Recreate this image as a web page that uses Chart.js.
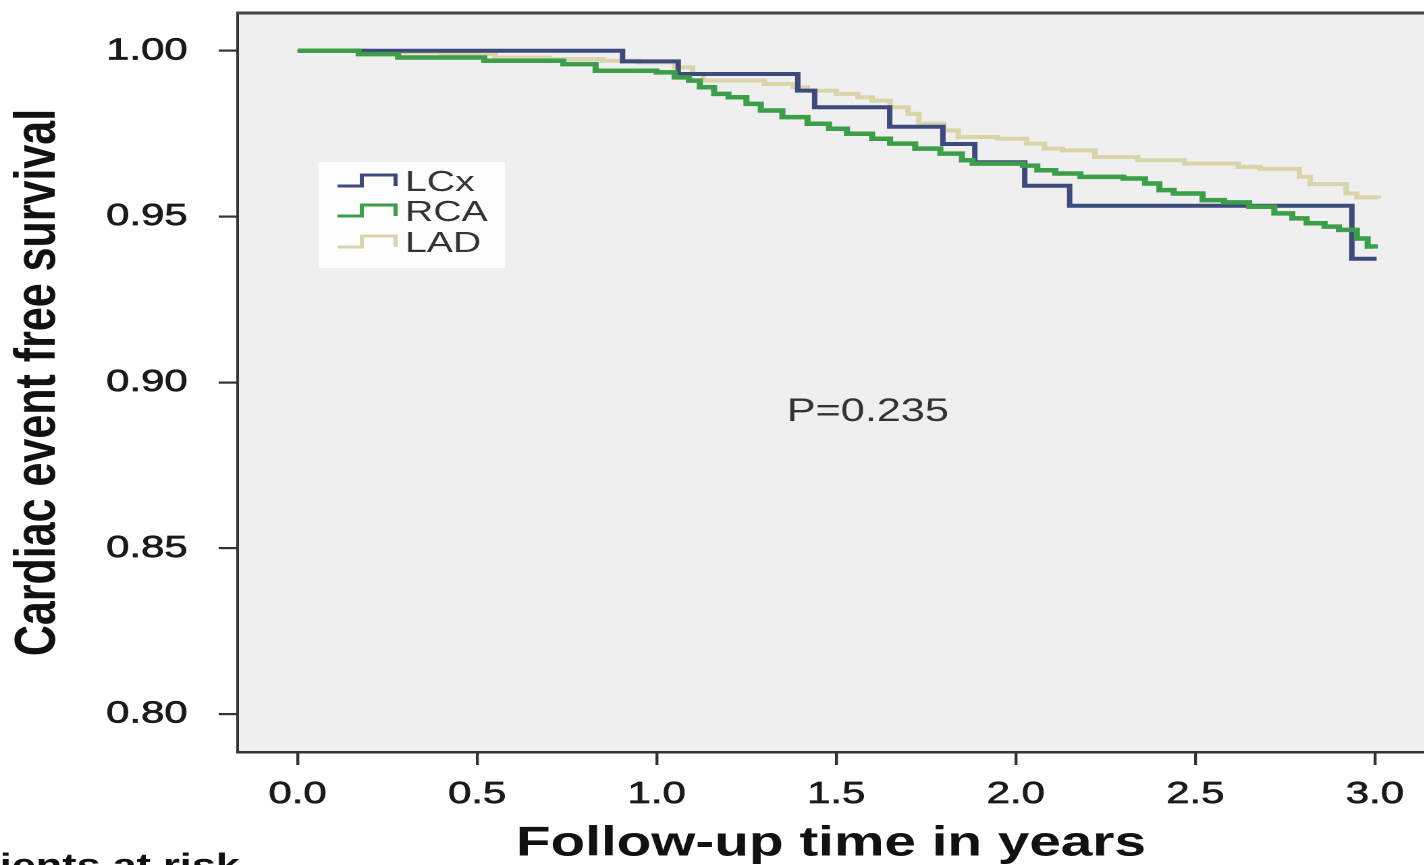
<!DOCTYPE html>
<html>
<head>
<meta charset="utf-8">
<title>Cardiac event free survival</title>
<script src="https://cdn.jsdelivr.net/npm/chart.js@4.4.1/dist/chart.umd.min.js"></script>
<style>
  html, body { margin: 0; padding: 0; background: #fff; overflow: hidden; }
  /* the source figure is stretched sideways, so the whole chart is drawn narrow and widened */
  #stretch { position: absolute; left: 0; top: 0; width: 1055px; height: 865px; transform: scaleX(1.35); transform-origin: 0 0; }
</style>
</head>
<body>
<div id="stretch"><canvas id="km"></canvas></div>
<script>
// Kaplan-Meier steps (time in years, survival)
const timeLCx = [0, 0.905, 1.06, 1.393, 1.44, 1.649, 1.797, 1.886, 2.025, 2.15, 2.936, 3.005];
const survLCx = [1.000, 0.9968, 0.993, 0.988, 0.983, 0.9771, 0.9719, 0.9664, 0.9593, 0.9533, 0.9373, 0.9373];

const timeRCA = [0, 0.17, 0.28, 0.52, 0.74, 0.83, 1.00, 1.05, 1.09, 1.12, 1.16, 1.20, 1.25, 1.29, 1.35, 1.42, 1.48, 1.53, 1.60, 1.65, 1.72, 1.79, 1.85, 1.88, 2.02, 2.06, 2.11, 2.18, 2.30, 2.36, 2.40, 2.44, 2.52, 2.58, 2.65, 2.72, 2.77, 2.81, 2.86, 2.90, 2.95, 2.98, 3.00];
const survRCA = [1.000, 0.999, 0.998, 0.997, 0.996, 0.994, 0.9935, 0.992, 0.991, 0.989, 0.987, 0.986, 0.984, 0.982, 0.980, 0.978, 0.9765, 0.975, 0.9735, 0.972, 0.9705, 0.969, 0.967, 0.966, 0.9654, 0.964, 0.963, 0.962, 0.9615, 0.960, 0.958, 0.957, 0.955, 0.9543, 0.953, 0.951, 0.9495, 0.948, 0.947, 0.946, 0.9434, 0.941, 0.9404];

const timeLAD = [0, 0.20, 0.40, 0.55, 0.70, 0.85, 0.95, 1.05, 1.10, 1.13, 1.30, 1.38, 1.42, 1.50, 1.56, 1.60, 1.65, 1.70, 1.73, 1.80, 1.84, 1.95, 2.03, 2.08, 2.13, 2.22, 2.34, 2.47, 2.62, 2.68, 2.79, 2.82, 2.92, 2.95, 3.01];
const survLAD = [1.000, 0.9995, 0.999, 0.998, 0.9975, 0.997, 0.9965, 0.995, 0.993, 0.991, 0.990, 0.989, 0.988, 0.987, 0.986, 0.985, 0.983, 0.981, 0.978, 0.976, 0.974, 0.9735, 0.972, 0.9705, 0.970, 0.968, 0.967, 0.966, 0.965, 0.9644, 0.962, 0.9598, 0.957, 0.9558, 0.9555];

const groupNames = ['LCx', 'RCA', 'LAD'];
const xTicks = [0, 0.5, 1.0, 1.5, 2.0, 2.5, 3.0];
const yTicks = [0.80, 0.85, 0.90, 0.95, 1.00];
const pValueText = 'P=0.235';
const pValuePos = [1.588, 0.891];

const FONT = "'Liberation Sans', Arial, Helvetica, sans-serif";
const INK = '#1a1a1a';

function toPoints(times, surv) {
    return times.map((t, i) => ({ x: t, y: surv[i] }));
}

// grey plot area and the top frame line
const framePlugin = {
    id: 'frame',
    beforeDraw(chart) {
        const { ctx, chartArea: a } = chart;
        ctx.save();
        ctx.fillStyle = '#efefef';
        ctx.fillRect(a.left, a.top, a.right - a.left, a.bottom - a.top);
        ctx.restore();
    },
    afterDraw(chart) {
        const { ctx, chartArea: a } = chart;
        ctx.save();
        ctx.strokeStyle = '#444';
        ctx.lineWidth = 3;
        ctx.beginPath();
        ctx.moveTo(a.left - 1, a.top);
        ctx.lineTo(a.right, a.top);
        ctx.stroke();

        // caption below the axis, cut by the page edge like in the figure
        ctx.fillStyle = '#111';
        ctx.font = 'bold 32px ' + FONT;
        ctx.textBaseline = 'alphabetic';
        ctx.textAlign = 'left';
        ctx.fillText('Patients at risk', -50, 876);
        ctx.restore();
    }
};

// legend box with step shaped keys, plus the p value
const legendPlugin = {
    id: 'kmLegend',
    afterDatasetsDraw(chart) {
        const ctx = chart.ctx;
        const xs = chart.scales.x, ys = chart.scales.y;
        ctx.save();
        ctx.fillStyle = '#fdfdfd';
        ctx.fillRect(236, 162, 138, 106);

        const rows = [183, 213, 244];
        groupNames.forEach((name, i) => {
            const ds = chart.data.datasets.find(d => d.label === name);
            const cy = rows[i];
            ctx.strokeStyle = ds.borderColor;
            ctx.lineWidth = 3;
            ctx.beginPath();
            ctx.moveTo(250, cy + 3);
            ctx.lineTo(268, cy + 3);
            ctx.lineTo(268, cy - 8);
            ctx.lineTo(293, cy - 8);
            ctx.lineTo(293, cy + 3);
            ctx.stroke();
            ctx.fillStyle = '#333';
            ctx.font = '29px ' + FONT;
            ctx.textBaseline = 'middle';
            ctx.textAlign = 'left';
            ctx.fillText(name, 300, cy);
        });

        ctx.fillStyle = '#333';
        ctx.font = '32px ' + FONT;
        ctx.textAlign = 'center';
        ctx.textBaseline = 'middle';
        ctx.fillText(pValueText, xs.getPixelForValue(pValuePos[0]), ys.getPixelForValue(pValuePos[1]));
        ctx.restore();
    }
};

const tickFont = { family: FONT, size: 31, lineHeight: 1.2 };

new Chart(document.getElementById('km'), {
    type: 'line',
    data: {
        datasets: [{
            label: 'LCx',
            data: toPoints(timeLCx, survLCx),
            borderColor: '#3d4a7c',
            order: 1
        }, {
            label: 'RCA',
            data: toPoints(timeRCA, survRCA),
            borderColor: '#3c9e48',
            borderWidth: 4.5,
            order: 0
        }, {
            label: 'LAD',
            data: toPoints(timeLAD, survLAD),
            borderColor: '#d9d4aa',
            order: 2
        }]
    },
    options: {
        responsive: true,
        maintainAspectRatio: false,
        animation: false,
        devicePixelRatio: 2,
        layout: { padding: { top: 13, left: 0, right: 0, bottom: 0 }, autoPadding: false },
        elements: {
            line: { stepped: 'before', borderWidth: 4, fill: false, tension: 0 },
            point: { radius: 0 }
        },
        plugins: {
            legend: { display: false },
            tooltip: { enabled: false }
        },
        scales: {
            x: {
                type: 'linear',
                min: -0.167,
                max: 3.1376,
                afterBuildTicks: s => { s.ticks = xTicks.map(v => ({ value: v })); },
                afterFit: s => {
                    s.height = 113;
                    s.paddingLeft = 0; s.paddingRight = 0;
                },
                ticks: {
                    callback: v => v.toFixed(1), font: tickFont, color: INK, padding: 11,
                    maxRotation: 0, autoSkip: false, textStrokeColor: INK, textStrokeWidth: 0.7
                },
                grid: { drawOnChartArea: false, drawTicks: true, tickLength: 13, color: '#333', lineWidth: 2.2 },
                border: { display: true, color: '#333', width: 2.5 },
                title: {
                    display: true,
                    text: 'Follow-up time in years',
                    color: '#111',
                    font: { family: FONT, size: 42, weight: 'bold', lineHeight: 1 },
                    padding: { top: 0, bottom: 0 }
                }
            },
            y: {
                type: 'linear',
                min: 0.7886,
                max: 1.0114,
                afterBuildTicks: s => { s.ticks = yTicks.map(v => ({ value: v })); },
                afterFit: s => {
                    s.width = 176;
                    s.paddingTop = 0; s.paddingBottom = 0;
                },
                ticks: {
                    callback: v => v.toFixed(2), font: tickFont, color: INK, padding: 23,
                    autoSkip: false, textStrokeColor: INK, textStrokeWidth: 0.7
                },
                grid: { drawOnChartArea: false, drawTicks: true, tickLength: 14, color: '#333', lineWidth: 2.2 },
                border: { display: true, color: '#333', width: 2 },
                title: {
                    display: true,
                    text: 'Cardiac event free survival',
                    color: '#111',
                    font: { family: FONT, size: 43, weight: 'bold', lineHeight: 1 },
                    padding: { top: 7, bottom: 0 }
                }
            }
        }
    },
    plugins: [framePlugin, legendPlugin]
});
</script>
</body>
</html>
